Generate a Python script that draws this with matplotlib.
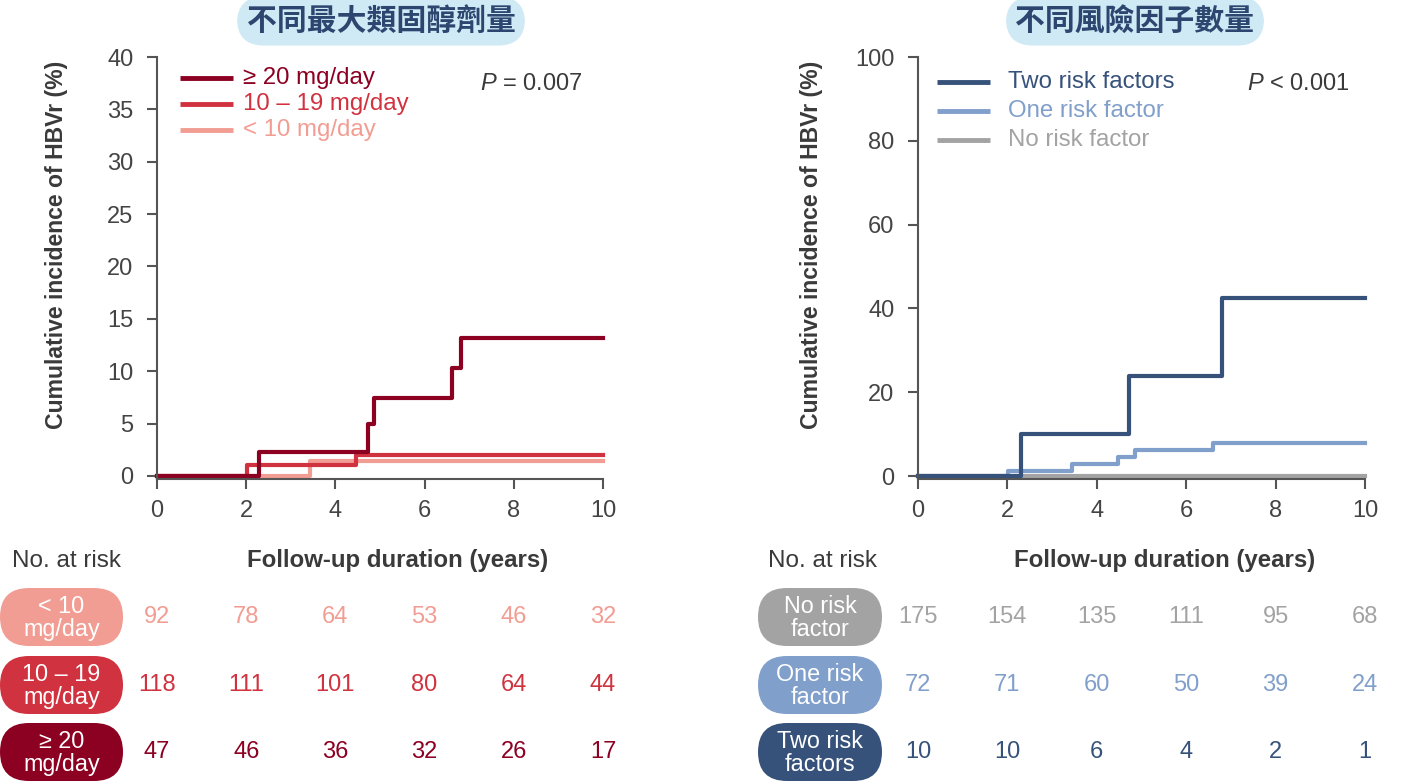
import matplotlib.pyplot as plt
from matplotlib.patches import FancyBboxPatch
from matplotlib.transforms import blended_transform_factory

plt.rcParams['font.family'] = ['Liberation Sans', 'DejaVu Sans']
plt.rcParams['mathtext.fontset'] = 'custom'
plt.rcParams['mathtext.it'] = 'Liberation Sans:italic'
plt.rcParams['mathtext.rm'] = 'Liberation Sans'

# ---- left panel: steroid dose ----
dose_labels = ['≥ 20 mg/day', '10 – 19 mg/day', '< 10 mg/day']
dose_colors = ['#8c0022', '#d0323f', '#f29d93']
dose_x = [
    [0, 2.29, 4.72, 4.87, 6.61, 6.81, 10],
    [0, 2.01, 4.46, 10],
    [0, 3.42, 10],
]
dose_y = [
    [0, 2.26, 4.96, 7.48, 10.28, 13.14, 13.14],
    [0, 1.02, 2.0, 2.0],
    [0, 1.40, 1.40],
]
dose_risk_labels = ['< 10\nmg/day', '10 – 19\nmg/day', '≥ 20\nmg/day']
dose_risk_colors = ['#f29d93', '#d0323f', '#8c0022']
dose_risk = [
    [92, 78, 64, 53, 46, 32],
    [118, 111, 101, 80, 64, 44],
    [47, 46, 36, 32, 26, 17],
]

# ---- right panel: number of risk factors ----
rf_labels = ['Two risk factors', 'One risk factor', 'No risk factor']
rf_colors = ['#36527a', '#819fcb', '#a3a3a3']
rf_x = [
    [0, 2.30, 4.72, 6.79, 10],
    [0, 2.02, 3.44, 4.48, 4.86, 6.60, 10],
    [0, 10],
]
rf_y = [
    [0, 10.0, 23.9, 42.6, 42.6],
    [0, 1.27, 2.94, 4.6, 6.2, 7.96, 7.96],
    [0, 0],
]
rf_risk_labels = ['No risk\nfactor', 'One risk\nfactor', 'Two risk\nfactors']
rf_risk_colors = ['#a3a3a3', '#819fcb', '#36527a']
rf_risk = [
    [175, 154, 135, 111, 95, 68],
    [72, 71, 60, 50, 39, 24],
    [10, 10, 6, 4, 2, 1],
]

time_ticks = [0, 2, 4, 6, 8, 10]

W, H = 1410, 782
fig = plt.figure(figsize=(W / 100, H / 100), dpi=100)

# pixel overlay for boxes
ov = fig.add_axes([0, 0, 1, 1], zorder=0)
ov.set_xlim(0, W)
ov.set_ylim(H, 0)
ov.axis('off')

axL = fig.add_axes([157 / W, 1 - 479 / H, 446 / W, 422 / H], zorder=2)
axR = fig.add_axes([918 / W, 1 - 479 / H, 447 / W, 422 / H], zorder=2)
axL.patch.set_alpha(0)
axR.patch.set_alpha(0)

spine_c = '#555555'
tick_c = '#444444'
text_c = '#3a3a3a'


def style_axis(ax, ylim, yticks, label_x):
    ax.set_xlim(0, 10)
    ax.set_ylim(*ylim)
    ax.set_xticks(time_ticks)
    ax.set_yticks(yticks)
    for s in ['top', 'right']:
        ax.spines[s].set_visible(False)
    for s in ['left', 'bottom']:
        ax.spines[s].set_color(spine_c)
        ax.spines[s].set_linewidth(1.5)
    ax.tick_params(direction='out', length=7, width=1.5, color=spine_c,
                   labelsize=17, labelcolor=tick_c)
    ax.tick_params(axis='y', pad=10)
    ax.tick_params(axis='x', pad=8)
    ax.set_ylabel('Cumulative incidence of HBVr (%)', fontsize=16.6,
                  fontweight='bold', color=text_c)
    ax.yaxis.set_label_coords(label_x, 0.555)


style_axis(axL, (-0.3, 40), [0, 5, 10, 15, 20, 25, 30, 35, 40], -0.2)
style_axis(axR, (-0.7, 100), [0, 20, 40, 60, 80, 100], -0.2125)

# curves (draw lowest first)
for xs, ys, c in reversed(list(zip(dose_x, dose_y, dose_colors))):
    axL.step(xs, ys, where='post', color=c, lw=3, clip_on=False)
for xs, ys, c in reversed(list(zip(rf_x, rf_y, rf_colors))):
    axR.step(xs, ys, where='post', color=c, lw=3, clip_on=False)


def legend(labels, colors, y0, dy, x_line, x_text):
    for i, (lab, c) in enumerate(zip(labels, colors)):
        y = y0 + i * dy
        ov.plot(x_line, [y, y], color=c, lw=3.5, solid_capstyle='butt')
        ov.text(x_text, y, lab, color=c, fontsize=17.3, va='center', ha='left')


legend(dose_labels, dose_colors, 78, 26, [180, 233], 243)
legend(rf_labels, rf_colors, 82, 29, [937, 990], 1008)

ov.text(480, 84, r'$P$ = 0.007', fontsize=17, color=text_c, va='center')
ov.text(1247, 84, r'$P$ < 0.001', fontsize=17, color=text_c, va='center')

# titles
title_kw = dict(fontsize=21.5, color='#2c4670', ha='center', va='center',
                family=['Noto Sans CJK TC', 'DejaVu Sans'], fontweight='bold',
                bbox=dict(boxstyle='round,pad=0.32,rounding_size=0.9',
                          fc='#cfe9f5', ec='none'))
ov.text(381, 21, '不同最大類固醇劑量', **title_kw)
ov.text(1135, 21, '不同風險因子數量', **title_kw)

# x labels and "No. at risk"
for cx, nx in [(398, 66), (1165, 822)]:
    ov.text(cx, 561, 'Follow-up duration (years)', fontsize=17.3, fontweight='bold',
            color=text_c, ha='center', va='center')
    ov.text(nx, 561, 'No. at risk', fontsize=17.5, color=text_c,
            ha='center', va='center')

# risk table
row_y = [617, 685, 752]


def risk_table(ax, labels, colors, counts, x0, w):
    tr = blended_transform_factory(ax.transData, ov.transData)
    h = 58
    for y, lab, c, row in zip(row_y, labels, colors, counts):
        ov.add_patch(FancyBboxPatch((x0, y - h / 2), w, h,
                                    boxstyle='round,pad=0,rounding_size=29',
                                    fc=c, ec='none'))
        ov.text(x0 + w / 2, y + 1, lab, color='white', fontsize=16.8,
                ha='center', va='center', linespacing=1.05)
        for t, n in zip(time_ticks, row):
            ov.text(t, y, str(n), transform=tr, color=c, fontsize=17,
                    ha='center', va='center')


risk_table(axL, dose_risk_labels, dose_risk_colors, dose_risk, 0, 123)
risk_table(axR, rf_risk_labels, rf_risk_colors, rf_risk, 758, 124)

fig.savefig('out.png', dpi=100)
